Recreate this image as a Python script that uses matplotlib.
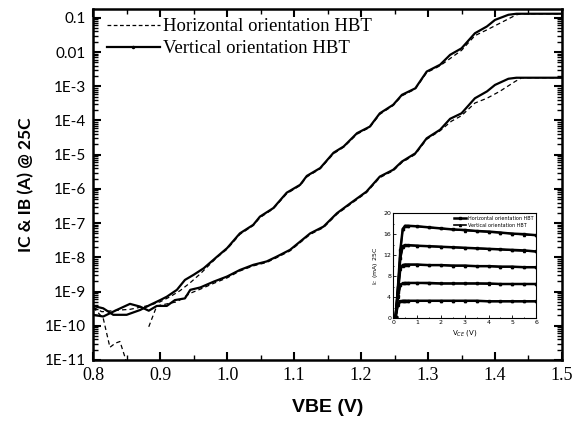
import numpy as np
import matplotlib
matplotlib.use('Agg')
import matplotlib.pyplot as plt
from matplotlib.lines import Line2D
from matplotlib.ticker import FixedLocator, LogLocator, NullFormatter, MultipleLocator

# ---- main plot data: VBE (V) and log10 of current (A) ----
vbe_ic_v = [0.800, 0.815, 0.830, 0.850, 0.870, 0.885, 0.900, 0.910, 0.925, 0.937,
            0.950, 0.965, 0.985, 1.000, 1.019, 1.039, 1.049, 1.069, 1.089, 1.109,
            1.119, 1.139, 1.159, 1.174, 1.194, 1.213, 1.228, 1.248, 1.261, 1.281,
            1.298, 1.318, 1.333, 1.350, 1.370, 1.388, 1.400, 1.420, 1.432, 1.500]
log_ic_v = [-9.42, -9.49, -9.68, -9.68, -9.54, -9.39, -9.25, -9.15, -8.95, -8.66,
            -8.51, -8.32, -7.98, -7.73, -7.30, -7.05, -6.81, -6.56, -6.11, -5.88,
            -5.62, -5.39, -4.94, -4.76, -4.37, -4.18, -3.79, -3.54, -3.25, -3.06,
            -2.57, -2.37, -2.08, -1.89, -1.45, -1.25, -1.06, -0.91, -0.88, -0.88]

vbe_ib_v = [0.800, 0.815, 0.835, 0.855, 0.870, 0.883, 0.895, 0.910, 0.922, 0.937,
            0.945, 0.960, 0.980, 1.000, 1.019, 1.039, 1.059, 1.074, 1.094, 1.109,
            1.124, 1.144, 1.164, 1.184, 1.208, 1.228, 1.248, 1.261, 1.281, 1.298,
            1.318, 1.333, 1.350, 1.370, 1.388, 1.400, 1.420, 1.432, 1.500]
log_ib_v = [-9.68, -9.73, -9.54, -9.36, -9.44, -9.56, -9.42, -9.42, -9.25, -9.20,
            -8.95, -8.88, -8.71, -8.56, -8.37, -8.22, -8.12, -7.98, -7.78, -7.54,
            -7.30, -7.10, -6.71, -6.42, -6.08, -5.64, -5.44, -5.20, -4.96, -4.52,
            -4.27, -3.95, -3.79, -3.35, -3.15, -2.96, -2.78, -2.75, -2.75]

vbe_ic_h = [0.800, 0.813, 0.840, 0.855, 0.870, 0.885, 0.900, 0.915, 0.930, 0.945,
            0.960, 0.985, 1.000, 1.019, 1.039, 1.049, 1.069, 1.089, 1.109, 1.119,
            1.139, 1.159, 1.174, 1.194, 1.213, 1.228, 1.248, 1.261, 1.281, 1.298,
            1.318, 1.335, 1.350, 1.370, 1.388, 1.407, 1.432, 1.440, 1.500]
log_ic_h = [-9.46, -9.59, -9.54, -9.52, -9.46, -9.40, -9.30, -9.15, -8.97, -8.74,
            -8.48, -8.00, -7.76, -7.33, -7.07, -6.84, -6.58, -6.14, -5.90, -5.65,
            -5.41, -4.97, -4.78, -4.40, -4.20, -3.82, -3.56, -3.28, -3.08, -2.60,
            -2.40, -2.16, -1.95, -1.52, -1.35, -1.16, -0.91, -0.88, -0.88]

vbe_ib_h = [0.800, 0.815, 0.825, 0.833, 0.840, 0.848, 0.856, 0.866, 0.876, 0.883,
            0.895, 0.910, 0.925, 0.945, 0.960, 0.980, 1.000, 1.019, 1.039, 1.059,
            1.074, 1.094, 1.109, 1.124, 1.144, 1.164, 1.184, 1.208, 1.228, 1.248,
            1.261, 1.281, 1.298, 1.318, 1.335, 1.350, 1.370, 1.388, 1.407, 1.430,
            1.440, 1.500]
log_ib_h = [-9.46, -9.78, -10.63, -10.51, -10.46, -10.95, -11.60, np.nan, np.nan, -10.03,
            -9.42, -9.36, -9.30, -9.05, -8.93, -8.76, -8.60, -8.40, -8.25, -8.15,
            -8.01, -7.81, -7.57, -7.33, -7.13, -6.74, -6.45, -6.11, -5.67, -5.47,
            -5.23, -4.99, -4.55, -4.30, -4.02, -3.86, -3.49, -3.35, -3.15, -2.86,
            -2.75, -2.75]

ytick_vals = [1e-1, 1e-2, 1e-3, 1e-4, 1e-5, 1e-6, 1e-7, 1e-8, 1e-9, 1e-10, 1e-11]
ytick_labels = ['0.1', '0.01', '1E-3', '1E-4', '1E-5', '1E-6', '1E-7', '1E-8',
                '1E-9', '1E-10', '1E-11']
xtick_vals = [0.8, 0.9, 1.0, 1.1, 1.2, 1.3, 1.4, 1.5]

# ---- inset data: Ic (mA) vs Vce (V) ----
vce = [0.0, 0.1, 0.2, 0.3, 0.4, 0.5, 0.6, 1.0, 1.5, 2.0, 2.5, 3.0, 3.5, 4.0,
       4.5, 5.0, 5.5, 6.0]
ic_steps_h = [
    [0, 0.2, 6.0, 13.0, 17.0, 17.6, 17.6, 17.5, 17.3, 17.1, 16.9, 16.8, 16.6, 16.5, 16.3, 16.1, 16.0, 15.8],
    [0, 0.2, 5.5, 11.5, 13.7, 13.9, 13.9, 13.8, 13.7, 13.6, 13.5, 13.4, 13.3, 13.2, 13.1, 13.0, 12.9, 12.7],
    [0, 0.2, 5.0, 9.5, 10.1, 10.2, 10.2, 10.2, 10.1, 10.1, 10.0, 10.0, 9.9, 9.9, 9.8, 9.8, 9.7, 9.7],
    [0, 0.2, 4.2, 6.4, 6.6, 6.7, 6.7, 6.7, 6.7, 6.6, 6.6, 6.6, 6.6, 6.6, 6.5, 6.5, 6.5, 6.5],
    [0, 0.2, 2.6, 3.2, 3.3, 3.3, 3.3, 3.3, 3.3, 3.3, 3.3, 3.3, 3.3, 3.2, 3.2, 3.2, 3.2, 3.2],
]
ic_steps_v = [
    [0, 0.2, 5.8, 12.8, 16.9, 17.5, 17.6, 17.5, 17.3, 17.1, 16.9, 16.7, 16.6, 16.4, 16.3, 16.1, 15.9, 15.8],
    [0, 0.2, 5.4, 11.4, 13.6, 13.9, 13.9, 13.8, 13.7, 13.6, 13.5, 13.4, 13.3, 13.2, 13.1, 12.9, 12.8, 12.7],
    [0, 0.2, 4.9, 9.4, 10.0, 10.2, 10.2, 10.2, 10.1, 10.1, 10.0, 10.0, 9.9, 9.9, 9.8, 9.8, 9.7, 9.7],
    [0, 0.2, 4.1, 6.3, 6.6, 6.7, 6.7, 6.7, 6.6, 6.6, 6.6, 6.6, 6.6, 6.5, 6.5, 6.5, 6.5, 6.5],
    [0, 0.2, 2.5, 3.2, 3.3, 3.3, 3.3, 3.3, 3.3, 3.3, 3.3, 3.3, 3.3, 3.2, 3.2, 3.2, 3.2, 3.2],
]


def to_amps(logs):
    return 10.0 ** np.asarray(logs, dtype=float)


fig = plt.figure(figsize=(5.86, 4.23), dpi=100)
ax = fig.add_axes([0.159, 0.149, 0.800, 0.830])

ax.plot(vbe_ic_h, to_amps(log_ic_h), 'k--', lw=0.9, dashes=(3.5, 2.5))
ax.plot(vbe_ib_h, to_amps(log_ib_h), 'k--', lw=0.9, dashes=(3.5, 2.5))
ax.plot(vbe_ic_v, to_amps(log_ic_v), 'k-', lw=1.6)
ax.plot(vbe_ib_v, to_amps(log_ib_v), 'k-', lw=1.6)

ax.set_yscale('log')
ax.set_xlim(0.8, 1.5)
ax.set_ylim(1e-11, 0.183)

ax.yaxis.set_major_locator(FixedLocator(ytick_vals))
ax.set_yticklabels(ytick_labels, family='Lato', fontsize=11)
ax.yaxis.set_minor_locator(LogLocator(base=10, subs=np.arange(2, 10), numticks=20))
ax.yaxis.set_minor_formatter(NullFormatter())
ax.set_xticks(xtick_vals)
ax.set_xticklabels(['%.1f' % v for v in xtick_vals], family='Liberation Serif', fontsize=13)
ax.xaxis.set_minor_locator(MultipleLocator(0.05))

ax.tick_params(which='major', direction='in', length=6, width=1.5, top=True, right=True, pad=5)
ax.tick_params(which='minor', direction='in', length=3.5, width=1.0, top=True, right=True)
for s in ax.spines.values():
    s.set_linewidth(1.8)

ax.set_xlabel('VBE (V)', family='Liberation Sans', fontweight='bold', fontsize=14, labelpad=11)
ax.set_ylabel('IC & IB (A) @ 25C', family='Lato', fontweight='bold', fontsize=12.5, labelpad=8)

handles = [Line2D([], [], color='k', ls='--', lw=0.9, dashes=(3, 2)),
           Line2D([], [], color='k', ls='-', lw=1.6, marker='.', markersize=3)]
ax.legend(handles, ['Horizontal orientation HBT', 'Vertical orientation HBT'],
          loc='upper left', frameon=False, prop={'family': 'Liberation Serif', 'size': 13.5},
          handlelength=2.8, handletextpad=0.2, borderaxespad=0.1, labelspacing=0.25,
          numpoints=1, bbox_to_anchor=(0.01, 1.0))

# ---- inset ----
ins = fig.add_axes([0.671, 0.248, 0.244, 0.248])
for i, row in enumerate(ic_steps_h):
    ins.plot(vce, row, 'k-', lw=1.8, marker='s', markersize=2,
             label='Horizontal orientation HBT' if i == 0 else None)
for i, row in enumerate(ic_steps_v):
    ins.plot(vce, row, 'k-', lw=1.2, marker='^', markersize=1.5,
             label='Vertical orientation HBT' if i == 0 else None)
ins.set_xlim(0, 6)
ins.set_ylim(0, 20)
ins.set_xticks([0, 1, 2, 3, 4, 5, 6])
ins.set_yticks([0, 4, 8, 12, 16, 20])
ins.xaxis.set_minor_locator(MultipleLocator(0.5))
ins.yaxis.set_minor_locator(MultipleLocator(2))
ins.tick_params(which='both', direction='in', labelsize=4.5, length=2, width=0.6, pad=1.5)
ins.tick_params(which='minor', length=1)
for s in ins.spines.values():
    s.set_linewidth(0.8)
ins.set_xlabel('V$_{CE}$ (V)', fontsize=5, labelpad=2)
ins.set_ylabel('I$_C$ (mA) 25C', fontsize=4.5, labelpad=2)
ins.legend(loc='upper right', frameon=False, fontsize=3.5, handlelength=2.5,
           borderaxespad=0.2, labelspacing=0.3, handletextpad=0.3, numpoints=1)

fig.savefig('out.png', dpi=100)
